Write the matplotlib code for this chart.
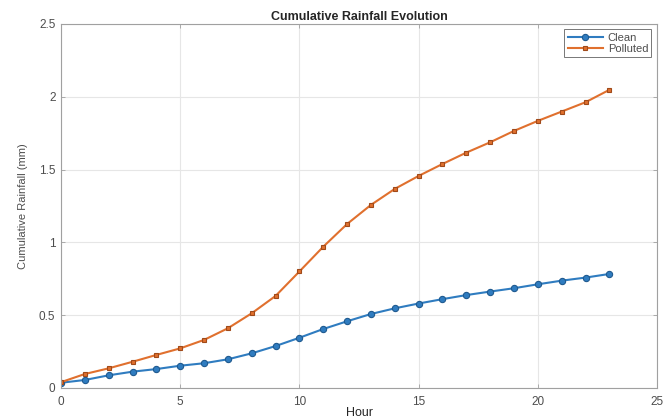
import matplotlib
matplotlib.use("Agg")
import matplotlib.pyplot as plt

plt.rcParams['font.family'] = ['Liberation Sans', 'DejaVu Sans']

hours = list(range(24))
clean = [0.036, 0.055, 0.087, 0.112, 0.130, 0.153, 0.170, 0.197, 0.238, 0.288,
         0.345, 0.405, 0.458, 0.508, 0.547, 0.580, 0.610, 0.638, 0.662, 0.685,
         0.712, 0.737, 0.758, 0.783]
polluted = [0.040, 0.096, 0.135, 0.180, 0.227, 0.272, 0.330, 0.410, 0.513, 0.632,
            0.800, 0.970, 1.126, 1.257, 1.367, 1.456, 1.538, 1.616, 1.687, 1.765,
            1.834, 1.898, 1.962, 2.047]

xticks = [0, 5, 10, 15, 20, 25]
yticks = [0, 0.5, 1, 1.5, 2, 2.5]
ytick_labels = ['0', '0.5', '1', '1.5', '2', '2.5']

blue = '#2f7cc0'
orange = '#e0702e'
gray = '#4d4d4d'

fig = plt.figure(figsize=(6.63, 4.19), dpi=100)
ax = fig.add_axes([0.092, 0.074, 0.899, 0.869])

ax.plot(hours, clean, '-o', color=blue, lw=1.5, ms=4.5,
        mfc=blue, mec='#1f5a8f', mew=0.8, label='Clean')
ax.plot(hours, polluted, '-s', color=orange, lw=1.5, ms=3.5,
        mfc=orange, mec='#a04a1a', mew=0.8, label='Polluted')

ax.set_xlim(0, 25)
ax.set_ylim(0, 2.5)
ax.set_xticks(xticks)
ax.set_yticks(yticks)
ax.set_yticklabels(ytick_labels)
ax.grid(True, color='#e6e6e6', lw=0.8)
ax.set_axisbelow(True)

for s in ax.spines.values():
    s.set_color('#a0a0a0')
    s.set_linewidth(0.8)
ax.tick_params(direction='in', length=3, width=0.6, color='#a0a0a0',
               labelsize=8.5, labelcolor=gray, top=True, right=True)
ax.tick_params(axis='x', pad=6)
ax.tick_params(axis='y', pad=4)

ax.set_title('Cumulative Rainfall Evolution', fontsize=9, fontweight='bold',
             color='#262626', pad=3)
ax.set_xlabel('Hour', fontsize=9, color='#262626', labelpad=-1)
ax.set_ylabel('Cumulative Rainfall (mm)', fontsize=8, color=gray, labelpad=8)

leg = ax.legend(loc='upper right', fontsize=8, frameon=True, fancybox=False,
                borderpad=0.3, handlelength=3.2, handletextpad=0.4,
                labelspacing=0.1, borderaxespad=0.5)
leg.get_frame().set_edgecolor('#555555')
leg.get_frame().set_linewidth(0.7)
for t in leg.get_texts():
    t.set_color(gray)

fig.savefig('out.png', dpi=100)
